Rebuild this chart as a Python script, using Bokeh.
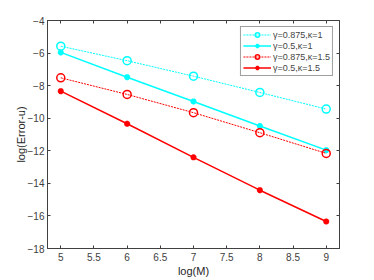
from bokeh.plotting import figure
from bokeh.models import Range1d, LinearAxis, FixedTicker, Legend, LegendItem
from bokeh.embed import file_html
from bokeh.resources import INLINE

logM = [5, 6, 7, 8, 9]
err_g0875_k1 = [-5.58, -6.47, -7.42, -8.42, -9.44]
err_g05_k1 = [-5.96, -7.48, -8.97, -10.48, -11.96]
err_g0875_k15 = [-7.52, -8.54, -9.66, -10.89, -12.16]
err_g05_k15 = [-8.34, -10.34, -12.40, -14.42, -16.34]

labels = ["γ=0.875,κ=1", "γ=0.5,κ=1", "γ=0.875,κ=1.5", "γ=0.5,κ=1.5"]
x_ticks = [5, 5.5, 6, 6.5, 7, 7.5, 8, 8.5, 9]
y_ticks = [-18, -16, -14, -12, -10, -8, -6, -4]

AX = "#404040"
FONT = "Liberation Sans"

p = figure(frame_width=292, frame_height=228, output_backend="svg", toolbar_location=None,
           x_range=Range1d(4.8, 9.2), y_range=Range1d(-18, -4),
           min_border_left=47, min_border_right=20, min_border_top=20,
           min_border_bottom=29)
p.xgrid.visible = False
p.ygrid.visible = False
p.outline_line_color = AX
p.background_fill_color = "white"

p.xaxis.ticker = FixedTicker(ticks=x_ticks)
p.yaxis.ticker = FixedTicker(ticks=y_ticks)
p.xaxis.axis_label = "log(M)"
p.yaxis.axis_label = "log(Error-u)"

for ax in [p.xaxis[0], p.yaxis[0]]:
    ax.axis_line_color = AX
    ax.major_tick_line_color = AX
    ax.major_tick_in = 3
    ax.major_tick_out = 0
    ax.minor_tick_line_color = None
    ax.major_label_text_font = FONT
    ax.major_label_text_font_size = "10px"
    ax.major_label_text_color = AX
    ax.axis_label_text_font = FONT
    ax.axis_label_text_font_size = "11px"
    ax.axis_label_text_font_style = "normal"
    ax.axis_label_text_color = "#262626"
p.xaxis.major_label_standoff = 4
p.xaxis.axis_label_standoff = 1
p.yaxis.major_label_standoff = 3
p.yaxis.axis_label_standoff = -2

for side, tk in [("above", x_ticks), ("right", y_ticks)]:
    a = LinearAxis(ticker=FixedTicker(ticks=tk), axis_line_color=AX,
                   major_tick_line_color=AX, major_tick_in=3, major_tick_out=0,
                   minor_tick_line_color=None, major_label_text_color=None,
                   major_label_standoff=0)
    p.add_layout(a, side)

CY = "#00FFFF"
RD = "#FF0000"

l1 = p.line(logM, err_g0875_k1, line_color=CY, line_width=1, line_dash="2 1")
s1 = p.scatter(logM, err_g0875_k1, marker="circle", size=8, fill_color=None,
               line_color=CY, line_width=1.5)
l2 = p.line(logM, err_g05_k1, line_color=CY, line_width=1.5)
s2 = p.scatter(logM, err_g05_k1, marker="asterisk", size=6, line_color=CY,
               line_width=2)
l3 = p.line(logM, err_g0875_k15, line_color=RD, line_width=1, line_dash="2 1")
s3 = p.scatter(logM, err_g0875_k15, marker="circle", size=8, fill_color=None,
               line_color=RD, line_width=1.5)
l4 = p.line(logM, err_g05_k15, line_color=RD, line_width=1.5)
s4 = p.scatter(logM, err_g05_k15, marker="asterisk", size=6, line_color=RD,
               line_width=2)

legend = Legend(items=[LegendItem(label=labels[0], renderers=[l1, s1]),
                       LegendItem(label=labels[1], renderers=[l2, s2]),
                       LegendItem(label=labels[2], renderers=[l3, s3]),
                       LegendItem(label=labels[3], renderers=[l4, s4])],
                location="top_right", margin=6, padding=2, spacing=0,
                label_text_font=FONT, label_text_font_size="9px",
                label_height=11, glyph_height=11, glyph_width=28,
                label_standoff=2, border_line_color=AX,
                background_fill_alpha=1.0)
p.add_layout(legend)

open("out.html", "w").write(file_html(p, INLINE))
